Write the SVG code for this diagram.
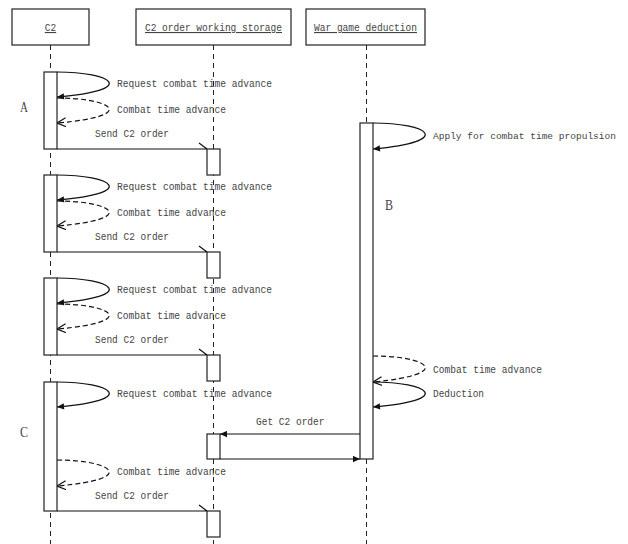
<svg xmlns="http://www.w3.org/2000/svg" width="628" height="544" viewBox="0 0 628 544">
<style>
.box{fill:#fff;stroke:#222;stroke-width:1.2}
.act{fill:#fff;stroke:#222;stroke-width:1.2}
.life{stroke:#222;stroke-width:1;stroke-dasharray:5,4;fill:none}
.msg{stroke:#111;stroke-width:1.2;fill:none}
.ret{stroke:#111;stroke-width:1.2;fill:none;stroke-dasharray:5,3}
.t{font-family:"Liberation Mono",monospace;font-size:11px;fill:#444}
.h{font-family:"Liberation Mono",monospace;font-size:11px;fill:#444;text-decoration:underline}
.big{font-family:"Liberation Serif",serif;font-size:15px;fill:#444}
</style>
<defs>
<marker id="fa" viewBox="0 0 10 10" refX="10" refY="5" markerWidth="9" markerHeight="7" orient="auto" markerUnits="userSpaceOnUse"><path d="M0,0.5 L10,5 L0,9.5 z" fill="#111"/></marker>
<marker id="oa" viewBox="0 0 10 10" refX="10" refY="5" markerWidth="9" markerHeight="10" orient="auto" markerUnits="userSpaceOnUse"><path d="M0,0 L10,5 L0,10" fill="none" stroke="#111" stroke-width="1.3"/></marker>
</defs>
<rect width="628" height="544" fill="#fff"/>

<g id="lifelines">
<line class="life" x1="50.5" y1="45" x2="50.5" y2="544"/>
<line class="life" x1="213.5" y1="45" x2="213.5" y2="544"/>
<line class="life" x1="366.5" y1="45" x2="366.5" y2="544"/>
</g>

<g id="node-c2">
<rect class="box" x="12" y="9" width="77" height="36"/>
<text class="h" x="50.5" y="31" text-anchor="middle" textLength="11.4" lengthAdjust="spacingAndGlyphs">C2</text>
</g>
<g id="node-storage">
<rect class="box" x="136" y="9" width="155" height="36"/>
<text class="h" x="213.5" y="31" text-anchor="middle" textLength="137" lengthAdjust="spacingAndGlyphs">C2 order working storage</text>
</g>
<g id="node-wargame">
<rect class="box" x="306" y="9" width="119" height="36"/>
<text class="h" x="365.5" y="31" text-anchor="middle" textLength="103" lengthAdjust="spacingAndGlyphs">War game deduction</text>
</g>

<g id="activations">
<rect class="act" x="44" y="72" width="13" height="77"/>
<rect class="act" x="44" y="175" width="13" height="77"/>
<rect class="act" x="44" y="278" width="13" height="77"/>
<rect class="act" x="44" y="382" width="13" height="129"/>
<rect class="act" x="207" y="149" width="13" height="26"/>
<rect class="act" x="207" y="252" width="13" height="26"/>
<rect class="act" x="207" y="355" width="13" height="26"/>
<rect class="act" x="207" y="434" width="13" height="25"/>
<rect class="act" x="207" y="511" width="13" height="26"/>
<rect class="act" x="360" y="123" width="13" height="336"/>
</g>

<g id="connectors">
<path class="msg" d="M57,72 C112,72 140,90 57,97" marker-end="url(#fa)"/>
<path class="ret" d="M57,98 C112,98 140,116 57,123" marker-end="url(#oa)"/>
<path class="msg" d="M57,149 H207 M199,143 L207,149"/>
<path class="msg" d="M57,175 C112,175 140,193 57,200" marker-end="url(#fa)"/>
<path class="ret" d="M57,201 C112,201 140,219 57,226" marker-end="url(#oa)"/>
<path class="msg" d="M57,252 H207 M199,246 L207,252"/>
<path class="msg" d="M57,278 C112,278 140,296 57,303" marker-end="url(#fa)"/>
<path class="ret" d="M57,304 C112,304 140,322 57,329" marker-end="url(#oa)"/>
<path class="msg" d="M57,355 H207 M199,349 L207,355"/>
<path class="msg" d="M57,382 C112,382 140,400 57,407" marker-end="url(#fa)"/>
<path class="ret" d="M57,460 C112,460 140,479 57,486" marker-end="url(#oa)"/>
<path class="msg" d="M57,511 H207 M199,505 L207,511"/>
<path class="msg" d="M373,123 C428,123 456,141 373,149" marker-end="url(#fa)"/>
<path class="ret" d="M373,356 C428,356 456,374 373,382" marker-end="url(#oa)"/>
<path class="msg" d="M373,382 C428,382 456,400 373,407" marker-end="url(#fa)"/>
<line class="msg" x1="360" y1="434" x2="220" y2="434" marker-end="url(#fa)"/>
<line class="msg" x1="220" y1="459" x2="360" y2="459" marker-end="url(#fa)"/>
</g>

<g id="labels">
<text class="t" x="117" y="87" textLength="155" lengthAdjust="spacingAndGlyphs">Request combat time advance</text>
<text class="t" x="117" y="113" textLength="109" lengthAdjust="spacingAndGlyphs">Combat time advance</text>
<text class="t" x="95" y="137" textLength="74" lengthAdjust="spacingAndGlyphs">Send C2 order</text>
<text class="t" x="117" y="190" textLength="155" lengthAdjust="spacingAndGlyphs">Request combat time advance</text>
<text class="t" x="117" y="216" textLength="109" lengthAdjust="spacingAndGlyphs">Combat time advance</text>
<text class="t" x="95" y="240" textLength="74" lengthAdjust="spacingAndGlyphs">Send C2 order</text>
<text class="t" x="117" y="293" textLength="155" lengthAdjust="spacingAndGlyphs">Request combat time advance</text>
<text class="t" x="117" y="319" textLength="109" lengthAdjust="spacingAndGlyphs">Combat time advance</text>
<text class="t" x="95" y="343" textLength="74" lengthAdjust="spacingAndGlyphs">Send C2 order</text>
<text class="t" x="117" y="397" textLength="155" lengthAdjust="spacingAndGlyphs">Request combat time advance</text>
<text class="t" x="117" y="475" textLength="109" lengthAdjust="spacingAndGlyphs">Combat time advance</text>
<text class="t" x="95" y="499" textLength="74" lengthAdjust="spacingAndGlyphs">Send C2 order</text>
<text class="t" x="433" y="139" style="font-size:9.6px" textLength="183" lengthAdjust="spacingAndGlyphs">Apply for combat time propulsion</text>
<text class="t" x="433" y="373" textLength="109" lengthAdjust="spacingAndGlyphs">Combat time advance</text>
<text class="t" x="433" y="397" textLength="51" lengthAdjust="spacingAndGlyphs">Deduction</text>
<text class="t" x="256" y="425" textLength="68.5" lengthAdjust="spacingAndGlyphs">Get C2 order</text>
<text class="big" x="20" y="112" textLength="8" lengthAdjust="spacingAndGlyphs">A</text>
<text class="big" x="385" y="210" textLength="8" lengthAdjust="spacingAndGlyphs">B</text>
<text class="big" x="20" y="437" textLength="8" lengthAdjust="spacingAndGlyphs">C</text>
</g>
</svg>
